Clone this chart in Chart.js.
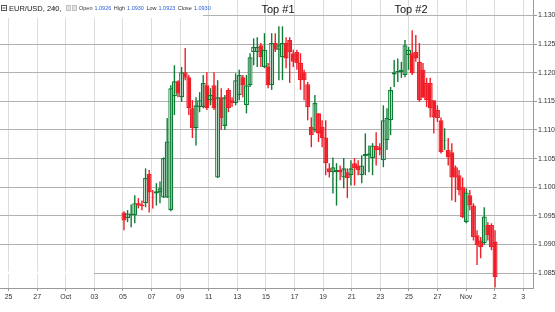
<!DOCTYPE html>
<html>
<head>
<meta charset="utf-8">
<script src="https://cdn.jsdelivr.net/npm/chart.js@4.4.1/dist/chart.umd.min.js"></script>
<style>
html, body { margin: 0; padding: 0; background: #fff; }
#wrap { width: 555px; height: 312px; }
</style>
</head>
<body>
<div id="wrap"><canvas id="chart" width="555" height="312"></canvas></div>
<script>
// EUR/USD 240 candles
const opens = [1.0956,1.0946,1.0951,1.0951,1.0972,1.0970,1.0972,1.1023,1.0982,1.0989,
  1.0991,1.0982,1.0982,1.0960,1.1159,1.1185,1.1157,1.1201,1.1192,1.1138,
  1.1103,1.1140,1.1140,1.1178,1.1152,1.1178,1.1017,1.1157,1.1107,1.1170,
  1.1152,1.1147,1.1161,1.1192,1.1143,1.1178,1.1236,1.1236,1.1248,1.1210,
  1.1210,1.1178,1.1252,1.1240,1.1227,1.1252,1.1257,1.1234,1.1236,1.1217,
  1.1201,1.1180,1.1105,1.1100,1.1129,1.1105,1.1087,1.1033,1.1026,1.1026,
  1.1030,1.1017,1.1026,1.1021,1.1042,1.1038,1.1021,1.1054,1.1056,1.1051,
  1.1072,1.1070,1.1047,1.1082,1.1117,1.1197,1.1201,1.1201,1.1196,1.1231,
  1.1234,1.1236,1.1219,1.1205,1.1182,1.1182,1.1152,1.1135,1.1117,1.1081,
  1.1065,1.1061,1.1035,1.1021,1.1000,1.0939,1.0986,1.0968,1.0916,1.0907,
  1.0902,1.0934,1.0934,1.0905];
const highs = [1.0958,1.0960,1.0970,1.0986,1.0981,1.0977,1.1033,1.1030,1.0995,1.1007,
  1.1010,1.1052,1.1121,1.1178,1.1213,1.1187,1.1210,1.1243,1.1196,1.1152,
  1.1157,1.1166,1.1196,1.1201,1.1173,1.1201,1.1187,1.1173,1.1161,1.1173,
  1.1157,1.1199,1.1205,1.1196,1.1196,1.1234,1.1260,1.1262,1.1252,1.1269,
  1.1217,1.1269,1.1269,1.1281,1.1281,1.1262,1.1262,1.1240,1.1240,1.1234,
  1.1205,1.1184,1.1122,1.1161,1.1129,1.1117,1.1117,1.1042,1.1052,1.1042,
  1.1038,1.1051,1.1033,1.1047,1.1051,1.1047,1.1056,1.1094,1.1073,1.1077,
  1.1096,1.1077,1.1143,1.1138,1.1175,1.1222,1.1225,1.1219,1.1257,1.1245,
  1.1274,1.1266,1.1252,1.1217,1.1191,1.1191,1.1152,1.1143,1.1122,1.1103,
  1.1086,1.1077,1.1038,1.1030,1.1017,1.0998,1.0995,1.0972,1.0925,1.0913,
  1.0965,1.0939,1.0937,1.0925];
const lows = [1.0925,1.0939,1.0930,1.0937,1.0963,1.0960,1.0965,1.0956,1.0963,1.0968,
  1.0972,1.0981,1.0981,1.0958,1.1126,1.1157,1.1149,1.1187,1.1126,1.1086,
  1.1073,1.1131,1.1138,1.1135,1.1143,1.1135,1.1016,1.1100,1.1100,1.1131,
  1.1140,1.1143,1.1152,1.1157,1.1129,1.1175,1.1213,1.1210,1.1210,1.1208,
  1.1173,1.1170,1.1236,1.1187,1.1187,1.1208,1.1182,1.1210,1.1205,1.1170,
  1.1152,1.1117,1.1070,1.1096,1.1079,1.1070,1.1021,1.1017,1.0989,1.0968,
  1.1012,1.0998,1.0981,1.1003,1.1003,1.1021,1.1007,1.1021,1.1026,1.1021,
  1.1038,1.1056,1.1035,1.1065,1.1091,1.1175,1.1184,1.1191,1.1192,1.1205,
  1.1196,1.1219,1.1149,1.1156,1.1140,1.1122,1.1094,1.1114,1.1059,1.1065,
  1.1038,1.0977,1.0974,1.0986,1.0946,1.0937,1.0960,1.0907,1.0864,1.0876,
  1.0899,1.0907,1.0890,1.0825];
const closes = [1.0942,1.0954,1.0954,1.0972,1.0968,1.0967,1.1016,1.0991,1.0981,1.0993,
  1.0998,1.1051,1.1080,1.1173,1.1185,1.1164,1.1201,1.1191,1.1138,1.1103,
  1.1143,1.1152,1.1182,1.1138,1.1161,1.1138,1.1157,1.1121,1.1157,1.1138,
  1.1147,1.1187,1.1196,1.1178,1.1178,1.1227,1.1245,1.1245,1.1227,1.1240,
  1.1178,1.1252,1.1240,1.1248,1.1252,1.1225,1.1236,1.1219,1.1217,1.1187,
  1.1187,1.1140,1.1091,1.1147,1.1094,1.1086,1.1042,1.1026,1.1035,1.1030,
  1.1026,1.1033,1.1016,1.1033,1.1033,1.1030,1.1038,1.1058,1.1059,1.1073,
  1.1065,1.1065,1.1117,1.1121,1.1170,1.1201,1.1203,1.1205,1.1248,1.1240,
  1.1199,1.1225,1.1152,1.1157,1.1152,1.1138,1.1122,1.1121,1.1061,1.1082,
  1.1052,1.1017,1.1017,1.0995,1.0948,1.0991,1.0968,1.0913,1.0899,1.0895,
  1.0949,1.0916,1.0895,1.0843];

const xTickLabels = ['25','27','Oct','03','05','07','09','11','13','15','17','19','21','23','25','27','Nov','2','3'];
const legendPairs = [['Open','1.0926'],['High','1.0930'],['Low','1.0923'],['Close','1.0930']];
const notes = [['Top #1', 278], ['Top #2', 411]];

const upColor = '#0e7c35';
const downColor = '#f01e28';

// candles sit at even steps along the date axis
const FIRST_SLOT = 4.035, SLOT_STEP = 0.126;
const slot = i => FIRST_SLOT + i * SLOT_STEP;
const isUp = opens.map((o, i) => closes[i] >= o);

Chart.defaults.font.family = "'Liberation Sans', Arial, sans-serif";

const overlay = {
    id: 'overlay',
    afterDraw(chart) {
        const ctx = chart.ctx;
        ctx.save();
        // header box hides the grid behind it
        ctx.fillStyle = '#fff';
        ctx.fillRect(0, 0, 203, 18);
        ctx.fillRect(0, 271.5, 94, 2.5);

        ctx.strokeStyle = '#555';
        ctx.lineWidth = 1;
        ctx.strokeRect(1.5, 5.5, 5, 5);
        ctx.beginPath(); ctx.moveTo(2.5, 8); ctx.lineTo(5.5, 8); ctx.stroke();

        ctx.textBaseline = 'middle';
        ctx.textAlign = 'left';
        ctx.fillStyle = '#222';
        ctx.font = "7.5px 'Liberation Sans', Arial";
        ctx.fillText('EUR/USD, 240,', 9, 8.5);
        ctx.fillStyle = '#888';
        ctx.font = "6px 'DejaVu Sans'";
        ctx.fillText('▾', 53, 8.5);

        ctx.fillStyle = '#e2e2e2';
        ctx.strokeStyle = '#c4c4c4';
        ctx.fillRect(66, 5, 5, 6); ctx.strokeRect(66.5, 5.5, 4, 5);
        ctx.fillRect(72, 5, 5, 6); ctx.strokeRect(72.5, 5.5, 4, 5);

        ctx.font = "5.5px 'Liberation Sans', Arial";
        let x = 79;
        legendPairs.forEach(([name, val]) => {
            ctx.fillStyle = '#333';
            ctx.fillText(name, x, 8.5);
            x += ctx.measureText(name).width + 2;
            ctx.fillStyle = '#2a5bd7';
            ctx.fillText(val, x, 8.5);
            x += ctx.measureText(val).width + 2.5;
        });

        ctx.fillStyle = '#111';
        ctx.textAlign = 'center';
        ctx.font = "11px 'Liberation Sans', Arial";
        notes.forEach(([txt, cx]) => ctx.fillText(txt, cx, 10));
        ctx.restore();
    }
};

new Chart(document.getElementById('chart'), {
    type: 'bar',
    data: {
        datasets: [
            {
                label: 'wick',
                data: opens.map((o, i) => ({ x: slot(i), y: [lows[i], highs[i]] })),
                backgroundColor: isUp.map(u => u ? upColor : downColor),
                barThickness: 1.4,
                grouped: false,
                borderWidth: 0,
                inflateAmount: 0
            },
            {
                label: 'body',
                data: opens.map((o, i) => ({ x: slot(i), y: [o, closes[i]] })),
                backgroundColor: isUp.map(u => u ? '#ffffff' : downColor),
                borderColor: isUp.map(u => u ? upColor : downColor),
                borderWidth: 1.3,
                borderSkipped: false,
                barThickness: 5,
                grouped: false,
                inflateAmount: 0
            }
        ]
    },
    options: {
        responsive: false,
        animation: false,
        devicePixelRatio: 1,
        layout: { padding: 0 },
        plugins: { legend: { display: false }, tooltip: { enabled: false } },
        scales: {
            x: {
                type: 'linear',
                position: 'bottom',
                min: -0.3,
                max: 18.34,
                offset: false,
                grid: { color: '#dcdcdc', offset: false, tickLength: 3, tickColor: '#999' },
                border: { color: '#9a9a9a' },
                ticks: {
                    stepSize: 1, maxTicksLimit: 40, autoSkip: false, maxRotation: 0, includeBounds: false,
                    padding: 2, color: '#333', font: { size: 7 },
                    callback: v => Number.isInteger(v) ? (xTickLabels[Math.abs(v)] || '') : ''
                },
                afterFit: s => { s.height = 24; s.paddingLeft = 0; s.paddingRight = 0; }
            },
            y: {
                type: 'linear',
                position: 'right',
                min: 1.0824,
                max: 1.1327,
                grid: { color: '#b2b2b2', tickLength: 4, tickColor: '#999' },
                border: { color: '#9a9a9a' },
                ticks: {
                    stepSize: 0.005, includeBounds: false, padding: 1, color: '#333', font: { size: 7 },
                    callback: v => v.toFixed(3)
                },
                afterFit: s => { s.width = 22; s.paddingTop = 0; s.paddingBottom = 0; }
            }
        }
    },
    plugins: [overlay]
});
</script>
</body>
</html>
